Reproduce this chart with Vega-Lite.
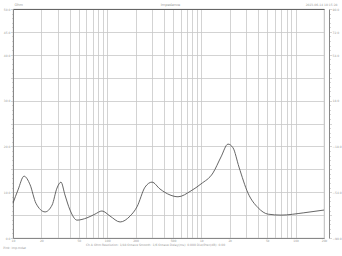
{
  "$schema": "https://vega.github.io/schema/vega-lite/v6.json",
  "width": 311,
  "height": 229,
  "autosize": {"type": "none"},
  "padding": {"left": 13, "top": 9, "right": 18, "bottom": 18},
  "background": "white",
  "title": {"text": "Pink: imp.mdat", "orient": "bottom", "anchor": "start", "fontSize": 3, "font": "DejaVu Sans", "color": "#999", "fontWeight": "normal", "offset": 1},
  "config": {
    "view": {"stroke": "#aaa", "strokeWidth": 0.8},
    "axis": {"labelFont": "DejaVu Sans", "titleFont": "DejaVu Sans", "labelColor": "#999", "titleColor": "#999", "labelFontSize": 3, "titleFontSize": 3.5, "titleFontWeight": "normal", "domainColor": "#888", "tickColor": "#aaa", "gridColor": "#c8c8c8", "gridWidth": 0.8}
  },
  "data": {"values": [
    {"freq": 10, "ohm": 7.6},
    {"freq": 11.3, "ohm": 10.5},
    {"freq": 13.1, "ohm": 13.5},
    {"freq": 15.2, "ohm": 11.6},
    {"freq": 17.5, "ohm": 7.6},
    {"freq": 21.9, "ohm": 5.7},
    {"freq": 26, "ohm": 7.2},
    {"freq": 29.3, "ohm": 10.9},
    {"freq": 32.3, "ohm": 12.2},
    {"freq": 35.6, "ohm": 9.4},
    {"freq": 40.3, "ohm": 6.1},
    {"freq": 47.8, "ohm": 3.9},
    {"freq": 61, "ohm": 4.4},
    {"freq": 74, "ohm": 5.2},
    {"freq": 88, "ohm": 5.9},
    {"freq": 107, "ohm": 4.8},
    {"freq": 137, "ohm": 3.5},
    {"freq": 175, "ohm": 4.8},
    {"freq": 207, "ohm": 6.8},
    {"freq": 252, "ohm": 11.1},
    {"freq": 299, "ohm": 12.2},
    {"freq": 363, "ohm": 10.7},
    {"freq": 464, "ohm": 9.4},
    {"freq": 564, "ohm": 9.0},
    {"freq": 776, "ohm": 10.3},
    {"freq": 989, "ohm": 11.8},
    {"freq": 1326, "ohm": 14.2},
    {"freq": 1614, "ohm": 17.7},
    {"freq": 1915, "ohm": 20.5},
    {"freq": 2163, "ohm": 19.7},
    {"freq": 2503, "ohm": 15.5},
    {"freq": 3122, "ohm": 9.8},
    {"freq": 3995, "ohm": 6.6},
    {"freq": 5110, "ohm": 5.2},
    {"freq": 6998, "ohm": 5.0},
    {"freq": 12210, "ohm": 5.5},
    {"freq": 20000, "ohm": 6.1}
  ]},
  "layer": [
    {
      "mark": {"type": "line", "color": "#555", "strokeWidth": 0.9, "interpolate": "monotone"},
      "encoding": {
        "x": {"field": "freq", "type": "quantitative",
          "scale": {"type": "log", "domain": [10, 20000], "nice": false},
          "axis": {"orient": "bottom", "values": [10,20,30,40,50,60,70,80,90,100,200,300,400,500,600,700,800,900,1000,2000,3000,4000,5000,6000,7000,8000,9000,10000,20000],
            "labelExpr": "indexof([10,20,50,100,200,500,1000,2000,5000,10000,20000], datum.value) >= 0 ? (datum.value >= 1000 ? (datum.value/1000) + 'k' : datum.value + '') : ''",
            "grid": true, "ticks": false, "labelPadding": 1, "labelFlush": false,
            "title": "Ch A   Ohm   Resolution: 1/48 Octave   Smooth: 1/6 Octave   Delay(ms): 0.000   Dist/Prec(dB): 0.00",
            "titleFontSize": 3, "titlePadding": 1, "titleX": 142}},
        "y": {"field": "ohm", "type": "quantitative",
          "scale": {"domain": [0, 50], "nice": false},
          "axis": {"orient": "left", "values": [0,1,2,3,4,5,6,7,8,9,10,11,12,13,14,15,16,17,18,19,20,21,22,23,24,25,26,27,28,29,30,31,32,33,34,35,36,37,38,39,40,41,42,43,44,45,46,47,48,49,50],
            "gridOpacity": {"condition": {"test": "datum.value % 5 === 0", "value": 1}, "value": 0},
            "tickSize": {"condition": {"test": "datum.value % 5 === 0", "value": 2.5}, "value": 1.5},
            "tickWidth": 0.5,
            "labelExpr": "indexof([0,10,20,30,40,45,50], datum.value) >= 0 ? format(datum.value, '.1f') : ''",
            "labelPadding": 0.5,
            "title": "Ohm", "titleAngle": 0, "titleAlign": "left", "titleBaseline": "bottom", "titleX": 1, "titleY": -3}}
      }
    },
    {
      "mark": {"type": "line", "opacity": 0},
      "encoding": {
        "x": {"field": "freq", "type": "quantitative",
          "scale": {"type": "log", "domain": [10, 20000], "nice": false},
          "axis": {"orient": "top", "labels": false, "ticks": false, "grid": false, "domainColor": "#666",
            "title": "Impedance", "titleFontSize": 3.5, "titleAlign": "center", "titleBaseline": "bottom", "titleX": 157, "titleY": -3}},
        "y": {"field": "ohm", "type": "quantitative",
          "scale": {"domain": [0, 50], "nice": false},
          "axis": {"orient": "right", "offset": 5, "grid": false,
            "values": [0,1,2,3,4,5,6,7,8,9,10,11,12,13,14,15,16,17,18,19,20,21,22,23,24,25,26,27,28,29,30,31,32,33,34,35,36,37,38,39,40,41,42,43,44,45,46,47,48,49,50],
            "tickSize": {"condition": {"test": "datum.value % 5 === 0", "value": 2.5}, "value": 1.5},
            "tickWidth": 0.5,
            "labelExpr": "indexof([0,10,20,30,40,45,50], datum.value) >= 0 ? format(datum.value * 3.6 - 90, '.1f') : ''",
            "labelPadding": 0.5,
            "title": "2023-06-14 10:15:28", "titleFontSize": 3, "titleAngle": 0, "titleAlign": "right", "titleBaseline": "bottom", "titleX": 8, "titleY": -3}}
      }
    }
  ],
  "resolve": {"scale": {"x": "independent", "y": "independent"}, "axis": {"x": "independent", "y": "independent"}}
}
